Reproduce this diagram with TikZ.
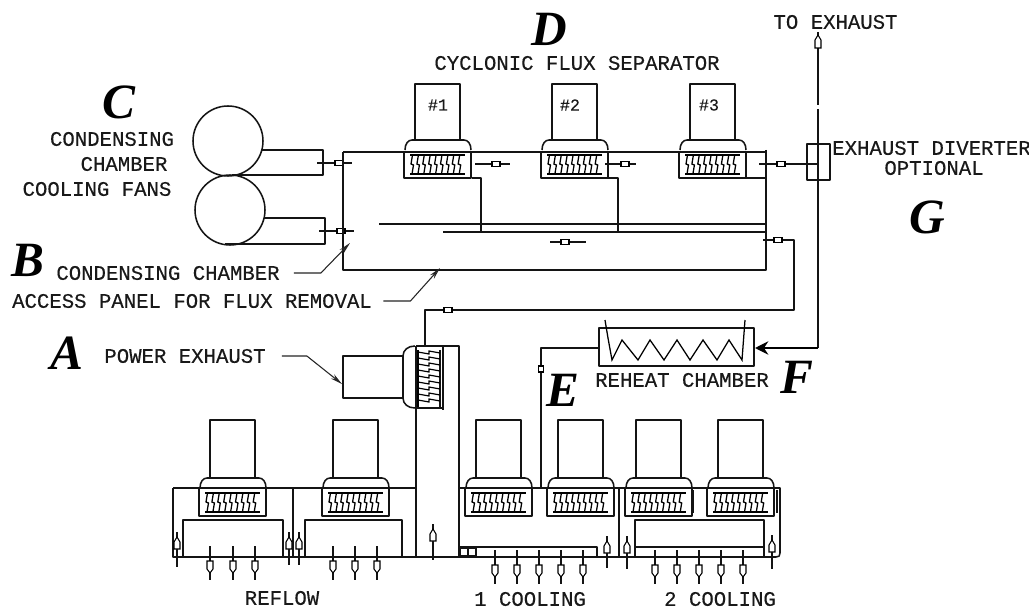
\documentclass[tikz,border=0pt]{standalone}
\usepackage{fontspec}
\usetikzlibrary{arrows.meta}
\setmainfont{Liberation Serif}
\newfontfamily\cadfont[FakeBold=0.25]{Liberation Mono}
\tikzset{
  ln/.style={line width=1.15pt,draw=black!92,line join=round},
  cadtext/.style={font=\cadfont\fontsize{15.5}{15.5}\selectfont,inner sep=0pt,text=black!90},
  numtext/.style={font=\cadfont\fontsize{12.5}{12.5}\selectfont,inner sep=0pt,text=black!90},
  bigletter/.style={font=\bfseries\itshape\fontsize{37}{37}\selectfont,inner sep=0pt,text=black},
  leader/.style={line width=0.8pt,draw=black!85,-{Stealth[open,length=9pt,width=4pt]}}
}
% blower unit: x left, y of hood top, y of stack top
\newcommand{\blowerunit}[3]{%
  \begin{scope}[shift={(#1,#2)}]
    \draw[ln] (11,0) -- (11,#3-#2) -- (56,#3-#2) -- (56,0);
    \draw[ln] (1,10) .. controls (1,4) and (4,0) .. (8,0) -- (60,0) .. controls (64,0) and (67,4) .. (67,10);
    \draw[ln] (0,11) -- (0,38) -- (67,38) -- (67,11);
    \draw[line width=1.6pt] (6,15) -- (61,15) (6,34) -- (61,34);
    \foreach \i in {0,...,8}{\draw[line width=.95pt] ({8.5+5.9*\i},15) -- ({7+5.9*\i},24) -- ({9.5+5.9*\i},25) -- ({8+5.9*\i},34);}
  \end{scope}}
\newcommand{\hdamp}[4]{%
  \draw[ln] (#1,#3) -- (#2,#3);
  \draw[line width=.8pt,fill=white] (#4-4,#3-2.5) rectangle (#4+4,#3+2.5);}
\newcommand{\arrdown}[3]{% x, y1, y2
  \draw[ln] (#1,#2) -- (#1,#3);
  \draw[line width=.8pt,fill=white] (#1-3,#3-19) -- (#1+3,#3-19) -- (#1+3,#3-11) -- (#1,#3-7) -- (#1-3,#3-11) -- cycle;}
\newcommand{\arrup}[3]{% x, y1 top, y2 bottom
  \draw[ln] (#1,#2) -- (#1,#3);
  \draw[line width=.8pt,fill=white] (#1-3,#2+17) -- (#1+3,#2+17) -- (#1+3,#2+10) -- (#1,#2+5) -- (#1-3,#2+10) -- cycle;}
\begin{document}
\begin{tikzpicture}[x=0.75pt,y=-0.75pt]
\useasboundingbox (0,0) rectangle (1029,610);
\fill[white] (0,0) rectangle (1029,610);

% fans
\draw[ln] (228,141) circle (35);
\draw[ln] (230,210) circle (35);
\draw[ln] (262,150) -- (323,150) -- (323,175) -- (232,175);
\draw[ln] (264,218) -- (325,218) -- (325,244) -- (225,244);
\hdamp{317}{352}{163}{339}
\hdamp{319}{354}{231}{341}

% condensing chamber
\draw[ln] (343,152) -- (766,152) (766,150) -- (766,270) -- (343,270) -- (343,152);
\draw[ln] (379,224) -- (766,224) (443,232) -- (766,232);
\draw[ln] (472,178) -- (481,178) -- (481,232);
\draw[ln] (608,178) -- (618,178) -- (618,232);
\draw[ln] (746,178) -- (766,178);
\blowerunit{404}{140}{84}
\blowerunit{541}{140}{84}
\blowerunit{679}{140}{84}
\hdamp{475}{510}{164}{496}
\hdamp{605}{636}{164}{625}
\hdamp{550}{586}{242}{565}
\hdamp{759}{818}{164}{781}

% diverter and exhaust stack
\draw[ln] (807,144) rectangle (830,180);
\draw[ln] (818,32) -- (818,105) (818,109) -- (818,348);
\draw[line width=.8pt,fill=white] (815,48) -- (821,48) -- (821,40) -- (818,35) -- (815,40) -- cycle;
\draw[line width=1.15pt,-{Stealth[length=10pt,width=10pt]}] (818,348) -- (755,348);

% return to power exhaust
\draw[ln] (763,240) -- (794,240) -- (794,310) -- (425,310) -- (425,346);
\draw[line width=.8pt,fill=white] (774,237.5) rectangle (782,242.5);
\draw[line width=.8pt,fill=white] (444,307.5) rectangle (452,312.5);

% power exhaust
\draw[ln] (403,356) -- (343,356) -- (343,398) -- (403,398);
\draw[ln] (415,346) .. controls (408,346) and (403,350) .. (403,356) -- (403,398) .. controls (403,404) and (408,408) .. (415,408) -- (443,408);
\draw[ln] (416,346) -- (459,346) -- (459,557);
\draw[ln] (416,346) -- (416,557);
\draw[ln] (443,346) -- (443,410);
\draw[line width=1.6pt] (418,350) -- (418,407);
\draw[ln] (440,350) -- (440,407);
\foreach \i in {0,...,8}{\draw[line width=.9pt] (418,{352+6*\i}) -- (429,{354+6*\i}) -- (429,{351+6*\i}) -- (440,{353+6*\i});}

% reheat chamber
\draw[ln] (599,328) rectangle (754,366);
\draw[ln] (541,488) -- (541,348) -- (599,348);
\draw[line width=.8pt,fill=white] (538.5,366) rectangle (543.5,372);
\draw[line width=.95pt] (605,320) -- (608,338) -- (612,360) -- (622,340) -- (638,360) -- (650,340) -- (664,360) -- (677,340) -- (690,360) -- (703,340) -- (717,360) -- (729,340) -- (742,360) -- (745,320);

% lower duct
\draw[ln] (173,488) -- (416,488) (459,488) -- (773,488);
\draw[ln] (173,488) -- (173,557) -- (776,557) .. controls (779,557) and (780,556) .. (780,553) -- (780,488) -- (770,488);
\draw[ln] (293,488) -- (293,557);
\draw[ln] (619,488) -- (619,557);
\draw[ln] (183,557) -- (183,520) -- (283,520) -- (283,557);
\draw[ln] (305,557) -- (305,520) -- (402,520) -- (402,557);
\draw[ln] (460,547) -- (597,547) -- (597,557);
\draw[ln] (635,557) -- (635,520) -- (764,520) -- (764,557) (635,547) -- (764,547);
\draw[ln] (460,548) rectangle (468,556) (468,548) rectangle (476,556);
\draw[ln] (693,490) -- (693,513) (777,490) -- (777,513);
\blowerunit{199}{478}{420}
\blowerunit{322}{478}{420}
\blowerunit{465}{478}{420}
\blowerunit{547}{478}{420}
\blowerunit{625}{478}{420}
\blowerunit{707}{478}{420}

% flow arrows
\foreach \x in {210,233,255,333,355,377}{\arrdown{\x}{546}{580}}
\foreach \x in {495,517,539,561,583,655,677,699,721,743}{\arrdown{\x}{550}{584}}
\arrup{177}{532}{567}
\arrup{289}{532}{565}
\arrup{299}{532}{565}
\arrup{433}{524}{560}
\arrup{607}{536}{568}
\arrup{627}{536}{569}
\arrup{772}{535}{569}

% text
\node[cadtext] (tex) at (835.5,22) {TO EXHAUST};
\node[cadtext] (cyc) at (577,63) {CYCLONIC FLUX SEPARATOR};
\node[cadtext] (div) at (931.5,148) {EXHAUST DIVERTER};
\node[cadtext] (opt) at (934,168) {OPTIONAL};
\node[cadtext] (c1) at (112,139) {CONDENSING};
\node[cadtext] (c2) at (124,164) {CHAMBER};
\node[cadtext] (c3) at (97,189) {COOLING FANS};
\node[cadtext] (cc) at (168,273) {CONDENSING CHAMBER};
\node[cadtext] (ap) at (192,301) {ACCESS PANEL FOR FLUX REMOVAL};
\node[cadtext] (pe) at (185,356) {POWER EXHAUST};
\node[cadtext] (rc) at (682,380) {REHEAT CHAMBER};
\node[cadtext] (rf) at (282,598) {REFLOW};
\node[cadtext] (k1) at (530,599) {1 COOLING};
\node[cadtext] (k2) at (720,599) {2 COOLING};
\node[numtext] (n1) at (438,105) {\#1};
\node[numtext] (n2) at (570,105) {\#2};
\node[numtext] (n3) at (709,105) {\#3};
\node[bigletter] (lA) at (67,353) {A};
\node[bigletter] (lB) at (28,260) {B};
\node[bigletter] (lC) at (119,102) {C};
\node[bigletter] (lD) at (549,29) {D};
\node[bigletter] (lE) at (563,390) {E};
\node[bigletter] (lF) at (797,377) {F};
\node[bigletter] (lG) at (927,217) {G};

% leaders
\draw[leader] ([xshift=10.5pt]cc.east) -- ++(27,0) -- (350,243);
\draw[leader] ([xshift=8.5pt]ap.east) -- ++(27,0) -- (440,268);
\draw[leader] ([xshift=12pt]pe.east) -- ++(25,0) -- (342,384);
\end{tikzpicture}
\end{document}
